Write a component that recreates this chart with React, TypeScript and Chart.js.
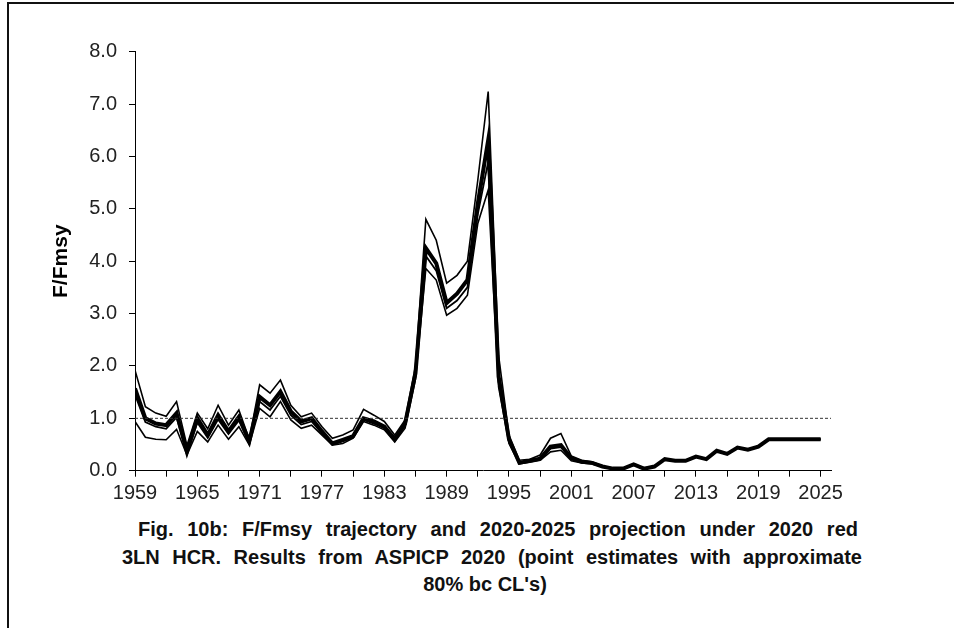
import React, { useEffect, useRef } from "react";
import { Chart, registerables } from "chart.js";

Chart.register(...registerables);

// ---- Data ----
const years = [
  1959, 1960, 1961, 1962, 1963, 1964, 1965, 1966, 1967, 1968,
  1969, 1970, 1971, 1972, 1973, 1974, 1975, 1976, 1977, 1978,
  1979, 1980, 1981, 1982, 1983, 1984, 1985, 1986, 1987, 1988,
  1989, 1990, 1991, 1992, 1993, 1994, 1995, 1996, 1997, 1998,
  1999, 2000, 2001, 2002, 2003, 2004, 2005, 2006, 2007, 2008,
  2009, 2010, 2011, 2012, 2013, 2014, 2015, 2016, 2017, 2018,
  2019, 2020, 2021, 2022, 2023, 2024, 2025,
];

const pointEstimate = [
  1.57, 1.0, 0.9, 0.87, 1.1, 0.36, 1.0, 0.68, 1.06, 0.75,
  1.03, 0.56, 1.41, 1.25, 1.51, 1.13, 0.94, 1.0, 0.75, 0.52,
  0.59, 0.66, 1.0, 0.94, 0.84, 0.6, 0.9, 1.86, 4.25, 3.96,
  3.2, 3.38, 3.64, 5.1, 6.31, 1.8, 0.6, 0.15, 0.19, 0.23,
  0.46, 0.49, 0.24, 0.17, 0.15, 0.08, 0.04, 0.04, 0.12, 0.04,
  0.08, 0.22, 0.19, 0.19, 0.27, 0.22, 0.38, 0.32, 0.44, 0.4,
  0.46, 0.6, 0.6, 0.6, 0.6, 0.6, 0.6,
];

const bcEstimate = [
  1.45, 0.93, 0.84, 0.8, 1.02, 0.33, 0.92, 0.63, 0.98, 0.7,
  0.96, 0.52, 1.32, 1.16, 1.42, 1.06, 0.88, 0.94, 0.71, 0.5,
  0.56, 0.64, 0.97, 0.9, 0.81, 0.58, 0.86, 1.8, 4.1, 3.82,
  3.1, 3.25, 3.5, 4.9, 5.9, 1.7, 0.56, 0.14, 0.18, 0.22,
  0.42, 0.45, 0.22, 0.16, 0.14, 0.08, 0.04, 0.04, 0.12, 0.04,
  0.08, 0.22, 0.19, 0.19, 0.27, 0.22, 0.38, 0.32, 0.44, 0.4,
  0.46, 0.6, 0.6, 0.6, 0.6, 0.6, 0.6,
];

const upperCL = [
  1.92, 1.22, 1.1, 1.04, 1.32, 0.48, 1.1, 0.8, 1.25, 0.87,
  1.16, 0.6, 1.64, 1.48, 1.73, 1.25, 1.03, 1.1, 0.84, 0.62,
  0.68, 0.78, 1.17, 1.06, 0.94, 0.68, 0.97, 2.0, 4.8, 4.4,
  3.58, 3.73, 4.0, 5.55, 7.24, 2.2, 0.68, 0.2, 0.22, 0.3,
  0.62, 0.71, 0.28, 0.2, 0.17, 0.09, 0.05, 0.05, 0.13, 0.05,
  0.09, 0.23, 0.2, 0.2, 0.28, 0.23, 0.39, 0.33, 0.45, 0.41,
  0.47, 0.61, 0.61, 0.61, 0.61, 0.61, 0.61,
];

const lowerCL = [
  0.94, 0.64, 0.6, 0.59, 0.79, 0.3, 0.75, 0.55, 0.87, 0.6,
  0.84, 0.49, 1.19, 1.03, 1.32, 0.97, 0.81, 0.87, 0.68, 0.49,
  0.52, 0.62, 0.94, 0.87, 0.78, 0.55, 0.81, 1.75, 3.86, 3.64,
  2.97, 3.1, 3.35, 4.72, 5.36, 1.6, 0.52, 0.13, 0.16, 0.2,
  0.36, 0.39, 0.19, 0.15, 0.13, 0.07, 0.03, 0.03, 0.11, 0.03,
  0.07, 0.21, 0.18, 0.18, 0.26, 0.21, 0.37, 0.31, 0.43, 0.39,
  0.45, 0.59, 0.59, 0.59, 0.59, 0.59, 0.59,
];

const refLevel = 1.0;
const xMin = 1959;
const xMax = 2026;
const yTicks = [0, 1, 2, 3, 4, 5, 6, 7, 8];
const xTickYears = [
  1959, 1962, 1965, 1968, 1971, 1974, 1977, 1980, 1983, 1986, 1989, 1992,
  1995, 1998, 2001, 2004, 2007, 2010, 2013, 2016, 2019, 2022, 2025,
];
const xLabelYears = [1959, 1965, 1971, 1977, 1983, 1989, 1995, 2001, 2007, 2013, 2019, 2025];
const yTitle = "F/Fmsy";
const captionLines = [
  "Fig. 10b: F/Fmsy trajectory and 2020-2025 projection  under 2020 red",
  "3LN HCR. Results from ASPICP 2020 (point estimates with approximate",
  "80% bc CL's)",
];

const FONT = "'Liberation Sans', Arial, Helvetica, sans-serif";

export default function App() {
  const canvasRef = useRef<HTMLCanvasElement | null>(null);

  useEffect(() => {
    const canvas = canvasRef.current;
    if (!canvas) return;
    const toXY = (vals: number[]) => years.map((yr, i) => ({ x: yr, y: vals[i] }));
    const chart = new Chart(canvas, {
      type: "line",
      data: {
        datasets: [
          {
            label: "F/Fmsy = 1",
            data: [
              { x: xMin, y: refLevel },
              { x: xMax, y: refLevel },
            ],
            borderColor: "#333",
            borderWidth: 1,
            borderDash: [3, 2],
            pointRadius: 0,
            tension: 0,
          },
          {
            label: "Upper 80% CL",
            data: toXY(upperCL),
            borderColor: "#000",
            borderWidth: 1.6,
            pointRadius: 0,
            tension: 0,
          },
          {
            label: "Lower 80% CL",
            data: toXY(lowerCL),
            borderColor: "#000",
            borderWidth: 1.6,
            pointRadius: 0,
            tension: 0,
          },
          {
            label: "Bias-corrected",
            data: toXY(bcEstimate),
            borderColor: "#000",
            borderWidth: 1.8,
            pointRadius: 0,
            tension: 0,
          },
          {
            label: "F/Fmsy",
            data: toXY(pointEstimate),
            borderColor: "#000",
            borderWidth: 4,
            pointRadius: 0,
            tension: 0,
          },
        ],
      },
      options: {
        animation: false,
        responsive: false,
        layout: { padding: { left: 0, right: 123, top: 51.7, bottom: 0 } },
        plugins: {
          legend: { display: false },
          tooltip: { enabled: false },
          title: { display: false },
        },
        scales: {
          x: {
            type: "linear",
            min: xMin,
            max: xMax,
            afterBuildTicks: (s: any) => {
              s.ticks = xTickYears.map((v) => ({ value: v }));
            },
            afterFit: (s: any) => {
              s.height = 39.3;
            },
            grid: {
              drawOnChartArea: false,
              drawTicks: true,
              tickLength: 6,
              color: "#000",
              tickColor: "#000",
            },
            border: { display: true, color: "#000", width: 1 },
            ticks: {
              autoSkip: false,
              maxRotation: 0,
              minRotation: 0,
              padding: 5,
              color: "#222",
              font: { family: FONT, size: 20 },
              callback: (v: any) => (xLabelYears.includes(Number(v)) ? String(v) : ""),
            },
          },
          y: {
            type: "linear",
            min: 0,
            max: 8,
            afterBuildTicks: (s: any) => {
              s.ticks = yTicks.map((v) => ({ value: v }));
            },
            afterFit: (s: any) => {
              s.width = 135;
            },
            grid: {
              drawOnChartArea: false,
              drawTicks: true,
              tickLength: 6,
              color: "#000",
              tickColor: "#000",
            },
            border: { display: true, color: "#000", width: 1 },
            ticks: {
              padding: 12,
              color: "#222",
              font: { family: FONT, size: 20 },
              callback: (v: any) => Number(v).toFixed(1),
            },
            title: {
              display: true,
              text: yTitle,
              color: "#000",
              font: { family: FONT, size: 21, weight: "bold" },
              padding: { top: 49, bottom: 0 },
            },
          },
        },
      },
    } as any);
    return () => chart.destroy();
  }, []);

  const capStyle: React.CSSProperties = {
    position: "absolute",
    fontFamily: FONT,
    fontWeight: "bold",
    fontSize: 20,
    lineHeight: "23px",
    color: "#111",
    whiteSpace: "nowrap",
  };

  return (
    <div
      style={{
        position: "absolute",
        left: 0,
        top: 0,
        width: 954,
        height: 628,
        background: "#fff",
        overflow: "hidden",
      }}
    >
      <div
        style={{
          position: "absolute",
          left: 7,
          top: 2,
          width: 1000,
          height: 700,
          borderLeft: "2px solid #111",
          borderTop: "2px solid #111",
        }}
      />
      <canvas
        ref={canvasRef}
        width={954}
        height={510}
        style={{ position: "absolute", left: 0, top: 0, width: 954, height: 510 }}
      />
      <div style={{ ...capStyle, left: 138, top: 518, width: 720, textAlign: "justify", textAlignLast: "justify" as any, whiteSpace: "normal" }}>
        {captionLines[0]}
      </div>
      <div style={{ ...capStyle, left: 122, top: 546, width: 740, textAlign: "justify", textAlignLast: "justify" as any, whiteSpace: "normal" }}>
        {captionLines[1]}
      </div>
      <div style={{ ...capStyle, left: 375, top: 573, width: 220, textAlign: "center" }}>
        {captionLines[2]}
      </div>
    </div>
  );
}
